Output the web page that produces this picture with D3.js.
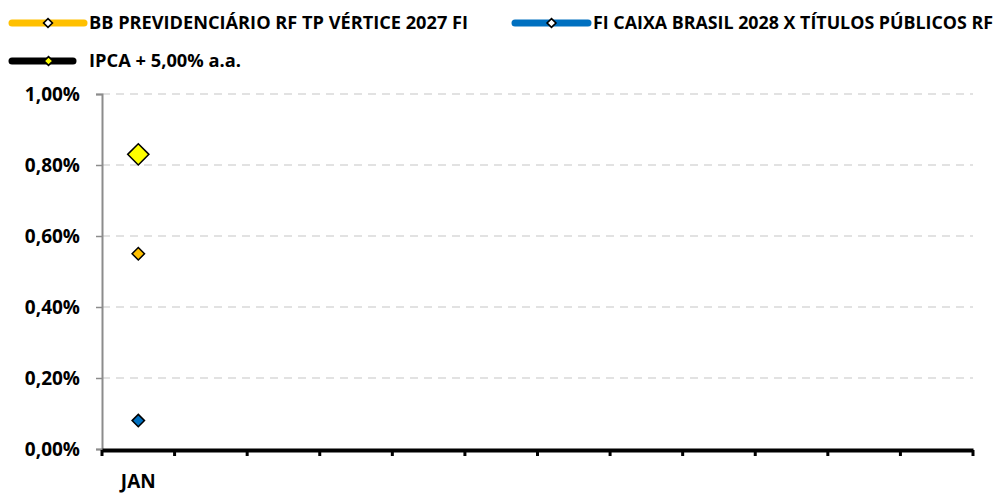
<!DOCTYPE html>
<html lang="pt-BR">
<head>
<meta charset="UTF-8">
<title>Rentabilidade</title>
<script src="https://cdn.jsdelivr.net/npm/d3@7"></script>
<style>
  body { margin: 0; background: #fff; }
  svg text { font-family: "Open Sans", "Liberation Sans", sans-serif; font-weight: bold; fill: #000; }
  .grid-line { stroke: #d9d9d9; stroke-dasharray: 8 6; stroke-width: 1.3; }
</style>
</head>
<body>
<div id="root"></div>
<script>
  // data
  let months = ["JAN", "FEV", "MAR", "ABR", "MAI", "JUN", "JUL", "AGO", "SET", "OUT", "NOV", "DEZ"]
  let seriesNames = ["BB PREVIDENCIÁRIO RF TP VÉRTICE 2027 FI", "FI CAIXA BRASIL 2028 X TÍTULOS PÚBLICOS RF", "IPCA + 5,00% a.a."]
  let bbValues = [0.55]
  let caixaValues = [0.08]
  let ipcaValues = [0.83]
  let yTicks = [0, 0.2, 0.4, 0.6, 0.8, 1.0]

  let width = 1000, height = 493
  let plotLeft = 102, plotRight = 973, plotTop = 94, plotBottom = 449

  let svg = d3.select("#root").append("svg").attr("width", width).attr("height", height)

  let x = d3.scaleBand().domain(months).range([plotLeft, plotRight])
  let y = d3.scaleLinear().domain([0, 1]).range([plotBottom, plotTop])

  let fmt = v => v.toFixed(2).replace(".", ",") + "%"

  // grid
  svg.append("g").selectAll("line").data(yTicks.filter(d => d > 0)).join("line")
    .attr("class", "grid-line")
    .attr("x1", plotLeft).attr("x2", plotRight)
    .attr("y1", d => y(d)).attr("y2", d => y(d))

  // y axis
  let yAxis = d3.axisLeft(y).tickValues(yTicks).tickFormat(fmt).tickSize(6).tickPadding(16)
  let gy = svg.append("g").attr("transform", "translate(" + plotLeft + ",0)").call(yAxis)
  gy.select(".domain").attr("stroke", "#8c8c8c").attr("stroke-width", 2)
  gy.selectAll(".tick line").attr("stroke", "#8c8c8c").attr("stroke-width", 1.5)
  gy.selectAll(".tick text").style("font-size", "19px")

  // x axis
  let xAxis = d3.axisBottom(x).tickSize(0).tickPadding(25)
  let gx = svg.append("g").attr("transform", "translate(0," + (plotBottom + 1) + ")").call(xAxis)
  gx.select(".domain").attr("stroke", "#000").attr("stroke-width", 4)
  gx.selectAll(".tick text").style("font-size", "19px").text(d => d === "JAN" ? d : "")
  let edges = months.map(m => x(m)).concat([plotRight])
  gx.append("g").selectAll("line").data(edges).join("line")
    .attr("x1", d => d).attr("x2", d => d).attr("y1", 0).attr("y2", 6)
    .attr("stroke", "#000").attr("stroke-width", 3)

  // points
  let diamond = d3.symbol().type(d3.symbolDiamond2)
  let cx = i => x(months[i]) + x.bandwidth() / 2
  let plot = (vals, fill, size) => {
    svg.append("g").selectAll("path").data(vals).join("path")
      .attr("d", diamond.size(size)())
      .attr("transform", (d, i) => "translate(" + cx(i) + "," + y(d) + ")")
      .attr("fill", fill).attr("stroke", "#000").attr("stroke-width", 1.5)
  }
  plot(bbValues, "#ffc000", 98)
  plot(caixaValues, "#0070c0", 98)
  plot(ipcaValues, "#ffff00", 288)

  // legend
  let legend = [
    { name: seriesNames[0], color: "#ffc000", mark: "#fff", x1: 12, x2: 84, tx: 89, tw: 379, ty: 23 },
    { name: seriesNames[1], color: "#0070c0", mark: "#fff", x1: 515, x2: 588, tx: 593, tw: 400, ty: 23 },
    { name: seriesNames[2], color: "#000", mark: "#ffff00", x1: 12, x2: 73, tx: 89, tw: 152, ty: 61 }
  ]
  let lg = svg.append("g").selectAll("g").data(legend).join("g")
  lg.append("line")
    .attr("x1", d => d.x1).attr("x2", d => d.x2).attr("y1", d => d.ty).attr("y2", d => d.ty)
    .attr("stroke", d => d.color).attr("stroke-width", 7).attr("stroke-linecap", "round")
  lg.append("path")
    .attr("d", diamond.size(50)())
    .attr("transform", d => "translate(" + ((d.x1 + d.x2) / 2 + (d.x2 - d.x1 < 70 ? 6 : 0)) + "," + d.ty + ")")
    .attr("fill", d => d.mark).attr("stroke", "#000").attr("stroke-width", 1.6)
  lg.append("text")
    .attr("x", d => d.tx).attr("y", d => d.ty + 6)
    .attr("textLength", d => d.tw).attr("lengthAdjust", "spacingAndGlyphs")
    .style("font-size", "17px")
    .text(d => d.name)
</script>
</body>
</html>
